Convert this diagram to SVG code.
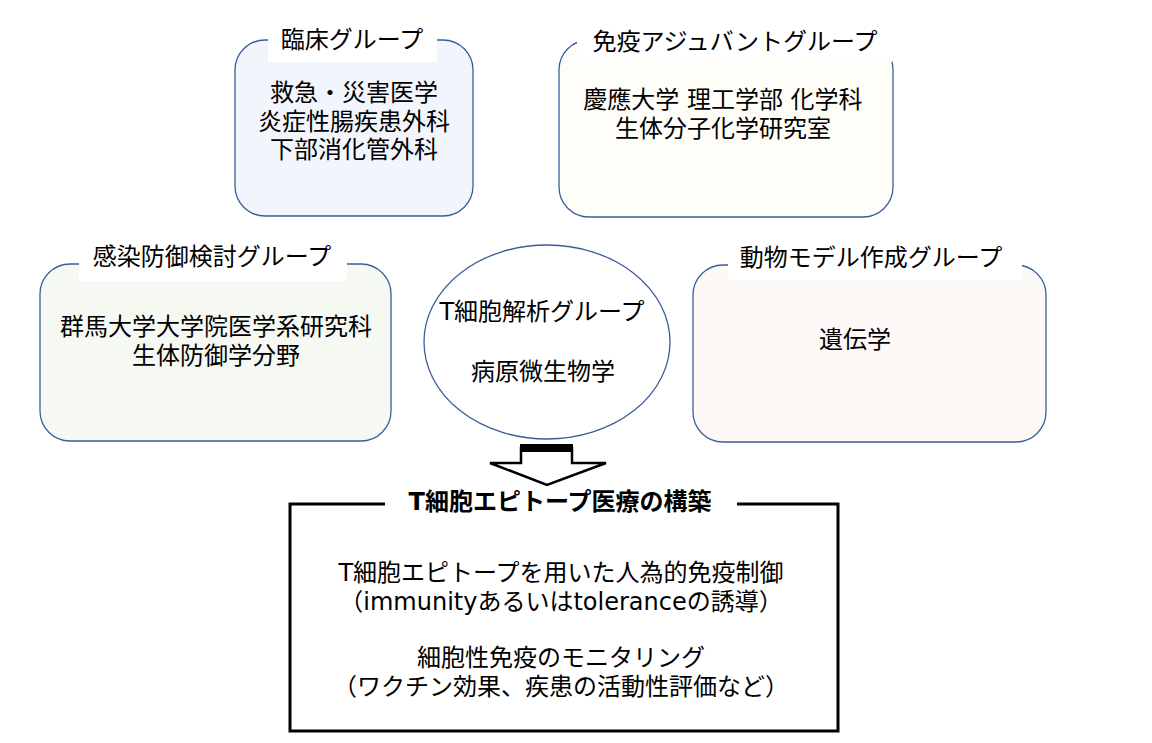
<svg xmlns="http://www.w3.org/2000/svg" width="1152" height="743" viewBox="0 0 1152 743">
<style>
  text { font-family: "DejaVu Sans", "Noto Sans CJK JP", sans-serif; font-size: 24px; fill: #000; text-anchor: middle; }
  .grp { stroke: #3A5E9C; stroke-width: 1.3; }
  .lbl { fill: #FFFFFF; stroke: none; }
  .title { font-weight: bold; }
</style>
<rect x="0" y="0" width="1152" height="743" fill="#FFFFFF"/>

<g id="clinical">
  <rect class="grp" x="235" y="40" width="238" height="176" rx="30" ry="30" fill="#F2F5FC"/>
  <rect class="lbl" x="268" y="22" width="169" height="40"/>
  <text x="352" y="48">臨床グループ</text>
  <text x="354" y="101"><tspan x="354">救急・災害医学</tspan><tspan x="354" dy="28.5">炎症性腸疾患外科</tspan><tspan x="354" dy="28.5">下部消化管外科</tspan></text>
</g>

<g id="adjuvant">
  <rect class="grp" x="559" y="40" width="334" height="177" rx="30" ry="30" fill="#FEFDF8"/>
  <rect class="lbl" x="577" y="20" width="315" height="42"/>
  <text x="735" y="50">免疫アジュバントグループ</text>
  <text x="723" y="108"><tspan x="723">慶應大学 理工学部 化学科</tspan><tspan x="723" dy="29">生体分子化学研究室</tspan></text>
</g>

<g id="infection">
  <rect class="grp" x="40" y="264" width="351" height="177" rx="30" ry="30" fill="#F5F9F2"/>
  <rect class="lbl" x="79" y="244" width="268" height="37"/>
  <text x="212" y="265">感染防御検討グループ</text>
  <text x="216" y="335"><tspan x="216">群馬大学大学院医学系研究科</tspan><tspan x="216" dy="29">生体防御学分野</tspan></text>
</g>

<g id="animal">
  <rect class="grp" x="693" y="265" width="353" height="177" rx="30" ry="30" fill="#FDF9F7"/>
  <rect class="lbl" x="728" y="242" width="294" height="38"/>
  <text x="871" y="266">動物モデル作成グループ</text>
  <text x="855" y="348">遺伝学</text>
</g>

<g id="tcell">
  <ellipse class="grp" cx="547" cy="342" rx="123" ry="97" fill="#FFFFFF"/>
  <text x="542" y="320">T細胞解析グループ</text>
  <text x="543" y="380">病原微生物学</text>
</g>

<g id="connectors">
  <polygon points="521,448 572,448 572,463 606,463 547,485 490,463 521,463" fill="#FFFFFF" stroke="#000" stroke-width="2.5" stroke-linejoin="miter"/>
  <rect x="520" y="444" width="53" height="8" fill="#000"/>
</g>

<g id="result">
  <rect x="290" y="504" width="548" height="227" fill="#FFFFFF" stroke="#000" stroke-width="3"/>
  <rect class="lbl" x="385" y="488" width="352" height="30"/>
  <text class="title" x="560" y="510">T細胞エピトープ医療の構築</text>
  <text x="561" y="581"><tspan x="561">T細胞エピトープを用いた人為的免疫制御</tspan><tspan x="561" dy="28.5">（immunityあるいはtoleranceの誘導）</tspan></text>
  <text x="561" y="666"><tspan x="561">細胞性免疫のモニタリング</tspan><tspan x="561" dy="29">（ワクチン効果、疾患の活動性評価など）</tspan></text>
</g>
</svg>
